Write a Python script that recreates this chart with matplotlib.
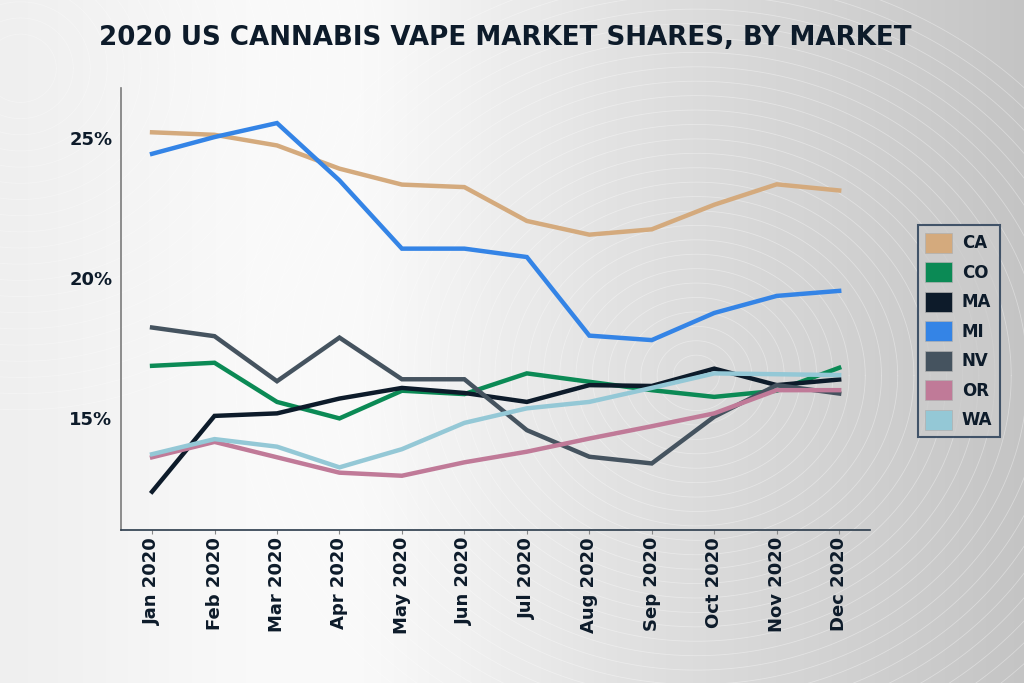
import numpy as np
import matplotlib.pyplot as plt
from matplotlib.patches import Patch

# ----- DATA ---------------------------------------------------------------
months = ['Jan 2020', 'Feb 2020', 'Mar 2020', 'Apr 2020', 'May 2020', 'Jun 2020',
          'Jul 2020', 'Aug 2020', 'Sep 2020', 'Oct 2020', 'Nov 2020', 'Dec 2020']
ca = [25.22, 25.13, 24.75, 23.92, 23.35, 23.26, 22.05, 21.56, 21.75, 22.63, 23.36, 23.14]
co = [16.87, 16.98, 15.58, 14.99, 15.98, 15.86, 16.60, 16.30, 16.00, 15.76, 15.98, 16.80]
ma = [12.37, 15.08, 15.17, 15.70, 16.08, 15.90, 15.58, 16.18, 16.15, 16.77, 16.18, 16.38]
mi = [24.45, 25.05, 25.55, 23.50, 21.06, 21.06, 20.76, 17.95, 17.79, 18.76, 19.37, 19.55]
nv = [18.24, 17.93, 16.32, 17.88, 16.39, 16.39, 14.57, 13.62, 13.38, 15.05, 16.18, 15.88]
or_ = [13.60, 14.15, 13.60, 13.05, 12.94, 13.42, 13.80, 14.27, 14.71, 15.17, 16.00, 16.00]
wa = [13.71, 14.25, 13.98, 13.24, 13.89, 14.83, 15.35, 15.58, 16.08, 16.60, 16.57, 16.54]

markets = ['CA', 'CO', 'MA', 'MI', 'NV', 'OR', 'WA']
series = [ca, co, ma, mi, nv, or_, wa]
colors = ['#d4aa7d', '#0b8a55', '#0d1b2a', '#3484e6', '#45535f', '#c07a98', '#94c8d6']

navy = '#0d1b2a'
font = ['DejaVu Sans']

# ----- FIGURE + BACKGROUND -------------------------------------------------
fig = plt.figure(figsize=(10.24, 6.83), dpi=100)
bg = fig.add_axes([0, 0, 1, 1], zorder=-10)
gx = np.linspace(0, 1, 400)
gy = np.linspace(0, 1, 270)
X, Y = np.meshgrid(gx, gy)
shade = 0.93 - 0.16 * np.clip((X - 0.35) / 0.65, 0, 1) ** 1.2 + 0.05 * np.exp(-((X - 0.3) ** 2) / 0.05)
shade = np.clip(shade, 0, 1)
bg.imshow(np.dstack([shade] * 3), extent=[0, 1, 0, 1], aspect='auto', origin='lower')
# faint concentric rings
t = np.linspace(0, 2 * np.pi, 300)
for r in np.linspace(0.03, 0.6, 28):
    bg.plot(0.68 + r * 0.75 * np.cos(t), 0.45 + r * np.sin(t), color='white', lw=0.6, alpha=0.35)
for r in np.linspace(0.05, 0.5, 20):
    bg.plot(0.02 + r * 0.7 * np.cos(t), 0.9 + r * np.sin(t), color='white', lw=0.6, alpha=0.3)
bg.set_xlim(0, 1)
bg.set_ylim(0, 1)
bg.axis('off')

# ----- PLOT ---------------------------------------------------------------
ax = fig.add_axes([0.118, 0.224, 0.732, 0.647])
ax.patch.set_alpha(0)
x = np.arange(len(months))
for name, vals, c in zip(markets, series, colors):
    ax.plot(x, vals, color=c, lw=3.2, solid_joinstyle='miter', label=name)

ax.set_xlim(-0.5, 11.5)
ax.set_ylim(11.0, 26.8)
ax.set_yticks([15, 20, 25])
ax.set_yticklabels(['15%', '20%', '25%'])
ax.set_xticks(x)
ax.set_xticklabels(months, rotation=90)
for lbl in ax.get_xticklabels() + ax.get_yticklabels():
    lbl.set_fontfamily(font)
    lbl.set_fontweight('bold')
    lbl.set_fontsize(13)
    lbl.set_color(navy)
ax.tick_params(axis='y', length=0, pad=6)
ax.tick_params(axis='x', length=3, color='#888888', pad=2)
for s in ['top', 'right']:
    ax.spines[s].set_visible(False)
ax.spines['left'].set_color('#7a7a7a')
ax.spines['bottom'].set_color('#2a3a4a')
ax.spines['left'].set_linewidth(1.2)
ax.spines['bottom'].set_linewidth(1.2)

handles = [Patch(facecolor=c, edgecolor='#b0b0b0', lw=0.5) for c in colors]
leg = fig.legend(handles, markets, loc='center left', bbox_to_anchor=(0.896, 0.515),
                 borderaxespad=0, frameon=True, fancybox=False,
                 handlelength=1.6, handleheight=1.5,
                 labelspacing=0.55, borderpad=0.45, handletextpad=0.6,
                 prop={'family': font, 'weight': 'bold', 'size': 12})
leg.get_frame().set_edgecolor('#1f3550')
leg.get_frame().set_linewidth(1.5)
leg.get_frame().set_facecolor('#cccccc')
for txt in leg.get_texts():
    txt.set_color(navy)

fig.text(0.493, 0.944, '2020 US CANNABIS VAPE MARKET SHARES, BY MARKET',
         ha='center', va='center', fontsize=18.8, fontweight='bold',
         family=font, color=navy)

fig.savefig('out.png', dpi=100)
